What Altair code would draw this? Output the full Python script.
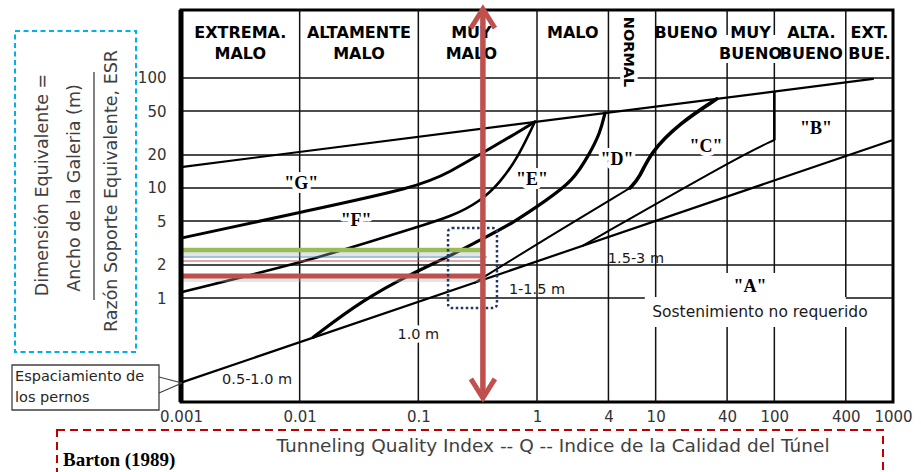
import altair as alt
import pandas as pd

# ---------------- axes ----------------
q_ticks = [0.001, 0.01, 0.1, 1, 4, 10, 40, 100, 400, 1000]
de_ticks = [1, 2, 5, 10, 20, 50, 100]
q_domain = [0.001, 1000]
de_domain = [0.1134, 415]
BOT, TOP = de_domain

# ---------------- rock-mass classes (header) ----------------
class_top = ["EXTREMA.", "ALTAMENTE", "MUY", "MALO", "BUENO", "MUY", "ALTA.", "EXT."]
class_bottom = ["MALO", "MALO", "MALO", "", "", "BUENO", "BUENO", "BUE."]
class_q = [0.00316, 0.0316, 0.28, 2.0, 18, 63, 205, 632]
normal_q = [5.8]
normal_de = [172]

# ---------------- grid ----------------
# vertical class dividers, split where labels sit on them
vgrid_q = [0.01, 0.1, 1, 4, 10, 10, 40, 40, 40, 100, 100, 100, 400, 400]
vgrid_lo = [BOT, BOT, BOT, BOT, BOT, 1.02, BOT, 1.69, 246, BOT, 1.69, 246, BOT, 1.02]
vgrid_hi = [TOP, TOP, TOP, TOP, 0.545, TOP, 0.545, 137, TOP, 0.545, 137, TOP, 0.545, TOP]
# horizontal lines at the labelled De values
hgrid_de = [1, 1, 2, 5, 10, 20, 50, 100]
hgrid_from = [0.001, 400, 0.001, 0.001, 0.001, 0.001, 0.001, 0.001]
hgrid_to = [8.1, 1000, 1000, 1000, 1000, 1000, 1000, 1000]

# ---------------- support category boundaries ----------------
top_q = [0.001, 677]
top_de = [15.5, 98]
gf_q = [0.001, 0.01, 0.1, 0.185, 0.35, 0.59, 0.96]
gf_de = [3.5, 6.0, 10.2, 14.0, 21.0, 29.0, 40.0]
fe_q = [0.001, 0.0107, 0.039, 0.0975, 0.19, 0.33, 0.49, 0.70, 0.96]
fe_de = [1.13, 2.12, 3.23, 4.42, 5.5, 7.5, 11.2, 19.5, 40.0]
ed_q = [0.013, 0.034, 0.09, 0.185, 0.331, 0.628, 1.21, 2.0, 2.8, 3.4, 3.74]
ed_de = [0.44, 0.96, 1.69, 2.41, 3.37, 4.8, 7.8, 11.5, 20.8, 31.6, 48.0]
cl_q = [0.30, 1.0, 6.07]
cl_de = [1.38, 3.1, 10.0]
c_q = [6.07, 7.4, 8.95, 16.0, 32.8]
c_de = [10.0, 12.6, 20.8, 39.0, 64.6]
low_q = [0.001, 1000]
low_de = [0.17, 27.3]
b_q = [2.44, 51, 100]
b_de = [3.0, 19.5, 27.3]
bv_q = [100]
bv_lo = [27.3]
bv_hi = [75.3]

# ---------------- labels ----------------
zone_labels = ['"G"', '"F"', '"E"', '"D"', '"C"', '"B"', '"A"']
zone_q = [0.0103, 0.0299, 0.908, 4.72, 26.5, 224, 62.3]
zone_de = [10.9, 5.0, 11.8, 18.0, 23.6, 34.4, 1.26]
spacing_labels = ["0.5-1.0 m", "1.0 m", "1-1.5 m", "1.5-3 m"]
spacing_q = [0.00438, 0.1, 1.0, 6.82]
spacing_de = [0.18, 0.46, 1.18, 2.26]
note_text = ["Sostenimiento no requerido"]
note_q = [75.6]
note_de = [0.746]

# ---------------- reading of the chart at Q = 0.35 ----------------
q_read = 0.35
level_de = [2.73, 2.36, 2.17, 1.585]
level_q_end = [0.35, 0.38, 0.35, 0.35]
level_color = ["#9bbb59", "#4f81bd", "#c0504d", "#c0504d"]
level_width = [4.5, 1.2, 1.2, 5.0]
box_q = [0.178, 0.46]
box_de = [0.81, 4.33]

SANS = "DejaVu Sans"
SERIF = "Liberation Serif"
RED = "#c0504d"

XS = alt.Scale(type="log", domain=q_domain)
YS = alt.Scale(type="log", domain=de_domain)
XA = alt.Axis(values=q_ticks, format="~g", title=None, grid=False, ticks=False,
              domain=False, labelFont=SANS, labelFontSize=15, labelColor="#333333",
              labelPadding=7, labelFlush=False, labelOverlap=False)
YA = alt.Axis(values=de_ticks, format="~g", title=None, grid=False, ticks=False,
              domain=False, labelFont=SANS, labelFontSize=15, labelColor="#333333",
              labelPadding=15, labelOverlap=False)


def xq(field="q"):
    return alt.X(f"{field}:Q", scale=XS, axis=XA)


def yd(field="de"):
    return alt.Y(f"{field}:Q", scale=YS, axis=YA)


one = pd.DataFrame({"k": [0]})

# grid segments
grid_df = pd.DataFrame({
    "q": vgrid_q + hgrid_from,
    "q2": vgrid_q + hgrid_to,
    "de": vgrid_lo + hgrid_de,
    "de2": vgrid_hi + hgrid_de,
})
grid = alt.Chart(grid_df).mark_rule(color="#111111", strokeWidth=1.5).encode(
    x=xq("q"), x2="q2:Q", y=yd("de"), y2="de2:Q")

# labels on the grid, with white halo that breaks the lines underneath
zone_df = pd.DataFrame({"t": zone_labels, "q": zone_q, "de": zone_de})
halo_df = zone_df.iloc[:5]
zone_halo = alt.Chart(halo_df).mark_text(
    font=SERIF, fontWeight="bold", fontSize=18, baseline="middle",
    color="white", stroke="white", strokeWidth=8, strokeJoin="round").encode(
    x=xq(), y=yd(), text="t:N")
spacing_df = pd.DataFrame({"t": spacing_labels, "q": spacing_q, "de": spacing_de})
spacing_halo = alt.Chart(spacing_df.iloc[1:2]).mark_text(
    font=SANS, fontSize=14.5, baseline="middle", color="white", stroke="white",
    strokeWidth=8, strokeJoin="round").encode(x=xq(), y=yd(), text="t:N")

# boundary curves
curve_rows = []
for name, qs, ds, w in [
    ("top", top_q, top_de, 2.2), ("gf", gf_q, gf_de, 3.0), ("fe", fe_q, fe_de, 2.6),
    ("ed", ed_q, ed_de, 3.2), ("cl", cl_q, cl_de, 2.0), ("c", c_q, c_de, 3.6),
    ("low", low_q, low_de, 2.2), ("b", b_q, b_de, 2.0),
]:
    for i, (q, d) in enumerate(zip(qs, ds)):
        curve_rows.append({"curve": name, "i": i, "q": q, "de": d, "w": w})
curves = alt.Chart(pd.DataFrame(curve_rows)).mark_line(
    color="black", interpolate="basis", strokeCap="round", strokeJoin="round").encode(
    x=xq(), y=yd(), detail="curve:N", order="i:Q",
    strokeWidth=alt.StrokeWidth("w:Q", scale=None))
b_vert = alt.Chart(pd.DataFrame({"q": bv_q, "de": bv_lo, "de2": bv_hi})).mark_rule(
    color="black", strokeWidth=2.6).encode(x=xq(), y=yd(), y2="de2:Q")

# header
class_df = pd.DataFrame({"q": class_q, "top": class_top, "bottom": class_bottom})
head_style = dict(font=SANS, fontWeight="bold", fontSize=16, baseline="middle", color="black")
head1 = alt.Chart(class_df).mark_text(**head_style).encode(
    x=xq(), y=alt.value(22.5), text="top:N")
head2 = alt.Chart(class_df).mark_text(**head_style).encode(
    x=xq(), y=alt.value(43.5), text="bottom:N")
normal_df = pd.DataFrame({"q": normal_q, "de": normal_de, "t": ["NORMAL"]})
normal_halo = alt.Chart(normal_df).mark_text(
    font=SANS, fontWeight="bold", fontSize=14.5, baseline="middle", angle=90,
    color="white", stroke="white", strokeWidth=7).encode(x=xq(), y=yd(), text="t:N")
normal = alt.Chart(normal_df).mark_text(
    font=SANS, fontWeight="bold", fontSize=14.5, baseline="middle", angle=90,
    color="black").encode(x=xq(), y=yd(), text="t:N")

# zone, spacing and note labels
zone_text = alt.Chart(zone_df).mark_text(
    font=SERIF, fontWeight="bold", fontSize=18, baseline="middle", color="black").encode(
    x=xq(), y=yd(), text="t:N")
spacing_text = alt.Chart(spacing_df).mark_text(
    font=SANS, fontSize=14.5, baseline="middle", color="#1a1a1a").encode(
    x=xq(), y=yd(), text="t:N")
note = alt.Chart(pd.DataFrame({"t": note_text, "q": note_q, "de": note_de})).mark_text(
    font=SANS, fontSize=15.5, baseline="middle", color="#1a1a1a").encode(
    x=xq(), y=yd(), text="t:N")

# reading levels at Q = 0.35
levels_df = pd.DataFrame({"de": level_de, "q0": [0.001] * 4, "q1": level_q_end,
                          "c": level_color, "w": level_width})
level_shadow = alt.Chart(levels_df[levels_df["w"] > 3]).mark_rule(
    color="#a9b1bd", opacity=0.35, strokeWidth=4, yOffset=4).encode(
    y=yd(), x=xq("q0"), x2="q1:Q")
levels = alt.Chart(levels_df).mark_rule().encode(
    y=yd(), x=xq("q0"), x2="q1:Q",
    color=alt.Color("c:N", scale=None),
    strokeWidth=alt.StrokeWidth("w:Q", scale=None))

box = alt.Chart(pd.DataFrame({"q1": [box_q[0]], "q2": [box_q[1]],
                              "d1": [box_de[0]], "d2": [box_de[1]]})).mark_rect(
    fillOpacity=0, stroke="#1f3864", strokeWidth=2.5, strokeDash=[2.5, 2.5],
    cornerRadius=4).encode(x=xq("q1"), x2="q2:Q", y=yd("d1"), y2="d2:Q")

# double-headed arrow along Q = 0.35
arrow_shaft = alt.Chart(pd.DataFrame({"q": [q_read], "d1": [0.128], "d2": [418]})).mark_rule(
    color=RED, strokeWidth=5.5).encode(x=xq(), y=yd("d1"), y2="d2:Q")
head_up = alt.Chart(pd.DataFrame({"q": [q_read], "de": [425]})).mark_point(
    shape="M -1 1.6 L 0 0 L 1 1.6", filled=False, size=576, strokeWidth=5,
    color=RED, opacity=1).encode(x=xq(), y=yd())
head_down = alt.Chart(pd.DataFrame({"q": [q_read], "de": [0.1233]})).mark_point(
    shape="M -1 -1.6 L 0 0 L 1 -1.6", filled=False, size=576, strokeWidth=5,
    color=RED, opacity=1).encode(x=xq(), y=yd())

# left frame thickening
left_frame = alt.Chart(one).mark_rule(color="black", strokeWidth=5).encode(
    x=alt.value(0), y=alt.value(0), y2=alt.value(392))

# y title block (fraction)
def vtext(t, px, py):
    return alt.Chart(pd.DataFrame({"t": [t]})).mark_text(
        font=SANS, fontSize=17.5, angle=270, baseline="middle", color="#404040").encode(
        x=alt.value(px), y=alt.value(py), text="t:N")


ytitle1 = vtext("Dimensión Equivalente =", -138, 175)
ytitle2 = vtext("Ancho de la Galeria (m)", -106, 178)
ytitle3 = vtext("Razón Soporte Equivalente, ESR", -69, 181)
frac_bar = alt.Chart(one).mark_rule(color="#595959", strokeWidth=1.5).encode(
    x=alt.value(-87), y=alt.value(62), y2=alt.value(290))
cyan_box = alt.Chart(one).mark_rect(
    fillOpacity=0, stroke="#00b0f0", strokeWidth=2, strokeDash=[5, 3.5]).encode(
    x=alt.value(-166), x2=alt.value(-45), y=alt.value(21), y2=alt.value(342))

# x title block
xtitle = alt.Chart(pd.DataFrame({"t": ["Tunneling Quality Index -- Q -- Indice de la Calidad del Túnel"]})).mark_text(
    font=SANS, fontSize=18.5, baseline="middle", color="#404040").encode(
    x=alt.value(372), y=alt.value(436), text="t:N")
red_box = alt.Chart(one).mark_rect(
    fillOpacity=0, stroke="#c00000", strokeWidth=2, strokeDash=[8, 5]).encode(
    x=alt.value(-124), x2=alt.value(702), y=alt.value(420), y2=alt.value(475))
source = alt.Chart(pd.DataFrame({"t": ["Barton (1989)"]})).mark_text(
    font=SERIF, fontWeight="bold", fontSize=19, align="left", baseline="middle",
    color="black").encode(x=alt.value(-118), y=alt.value(450), text="t:N")

# bolt spacing callout
callout_box = alt.Chart(one).mark_rect(
    fill="white", stroke="#404040", strokeWidth=1.3).encode(
    x=alt.value(-169), x2=alt.value(-22), y=alt.value(355), y2=alt.value(400))
callout1 = alt.Chart(pd.DataFrame({"t": ["Espaciamiento de"]})).mark_text(
    font=SANS, fontSize=14.5, align="left", baseline="middle", color="#262626").encode(
    x=alt.value(-166), y=alt.value(367), text="t:N")
callout2 = alt.Chart(pd.DataFrame({"t": ["los pernos"]})).mark_text(
    font=SANS, fontSize=14.5, align="left", baseline="middle", color="#262626").encode(
    x=alt.value(-166), y=alt.value(388), text="t:N")
leader1 = alt.Chart(one).mark_rule(color="#404040", strokeWidth=1.2).encode(
    x=alt.value(-22), x2=alt.value(1), y=alt.value(367), y2=alt.value(373))
leader2 = alt.Chart(one).mark_rule(color="#404040", strokeWidth=1.2).encode(
    x=alt.value(-22), x2=alt.value(1), y=alt.value(383), y2=alt.value(373))

chart = alt.layer(
    grid, zone_halo, spacing_halo, normal_halo, curves, b_vert,
    head1, head2, normal, zone_text, spacing_text, note,
    level_shadow, levels, box, arrow_shaft, head_up, head_down, left_frame,
    cyan_box, frac_bar, ytitle1, ytitle2, ytitle3,
    red_box, xtitle, source,
    callout_box, callout1, callout2, leader1, leader2,
).properties(
    width=712, height=392,
    autosize=alt.AutoSizeParams(type="none"),
    padding={"left": 181, "top": 10, "right": 28, "bottom": 70},
    background="white",
).configure_view(stroke="black", strokeWidth=3)

chart.save("out.html", embed_options={"renderer": "svg", "actions": False})
